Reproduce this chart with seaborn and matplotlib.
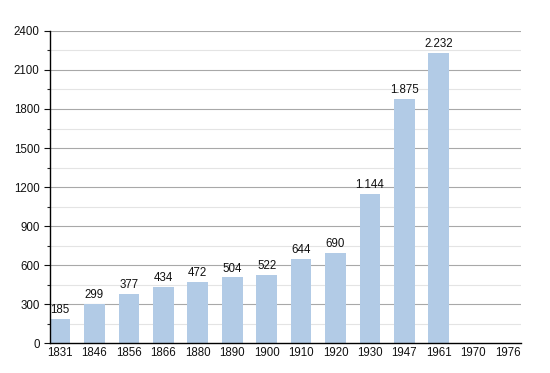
import seaborn as sns
import pandas as pd
import numpy as np
import matplotlib.pyplot as plt

# Population by census year
years = ['1831', '1846', '1856', '1866', '1880', '1890', '1900', '1910',
         '1920', '1930', '1947', '1961', '1970', '1976']
population = [185, 299, 377, 434, 472, 504, 522, 644, 690, 1144, 1875, 2232,
              np.nan, np.nan]
labels = ['185', '299', '377', '434', '472', '504', '522', '644', '690',
          '1.144', '1.875', '2.232', '', '']

data = pd.DataFrame({'year': years, 'pop': population})

sns.set_style('white')
plt.rcParams['font.family'] = ['Liberation Sans', 'DejaVu Sans']

fig = plt.figure(figsize=(5.5, 3.73), dpi=100)
ax = fig.add_axes([0.0909, 0.0804, 0.856, 0.8365])

# gridlines: major every 300, minor every 150
for v in range(150, 2401, 300):
    ax.axhline(v, color='#e4e4e4', lw=0.8, zorder=0)
for v in range(300, 2401, 300):
    ax.axhline(v, color='#a8a8a8', lw=0.8, zorder=0)

sns.barplot(data=data, x='year', y='pop', color='#b2cbe6', saturation=1,
            width=0.6, ax=ax, zorder=2, linewidth=0)

for i, (v, lab) in enumerate(zip(population, labels)):
    if lab:
        ax.text(i, v + 22, lab, ha='center', va='bottom', fontsize=8.3,
                color='#111111')

ax.set_ylim(0, 2400)
ax.set_xlim(-0.29, 13.38)
ax.set_yticks(range(0, 2401, 300))
ax.set_yticks(range(150, 2401, 300), minor=True)
ax.set_xlabel('')
ax.set_ylabel('')
ax.tick_params(axis='both', labelsize=8.3, colors='#111111')
ax.tick_params(axis='y', which='major', length=4, width=0.8, left=True)
ax.tick_params(axis='y', which='minor', length=2, width=0.8, left=True)
ax.tick_params(axis='x', length=0, pad=3)
for s in ['top', 'right']:
    ax.spines[s].set_visible(False)
for s in ['left', 'bottom']:
    ax.spines[s].set_color('black')
    ax.spines[s].set_linewidth(1)

fig.savefig('out.png', dpi=100)
